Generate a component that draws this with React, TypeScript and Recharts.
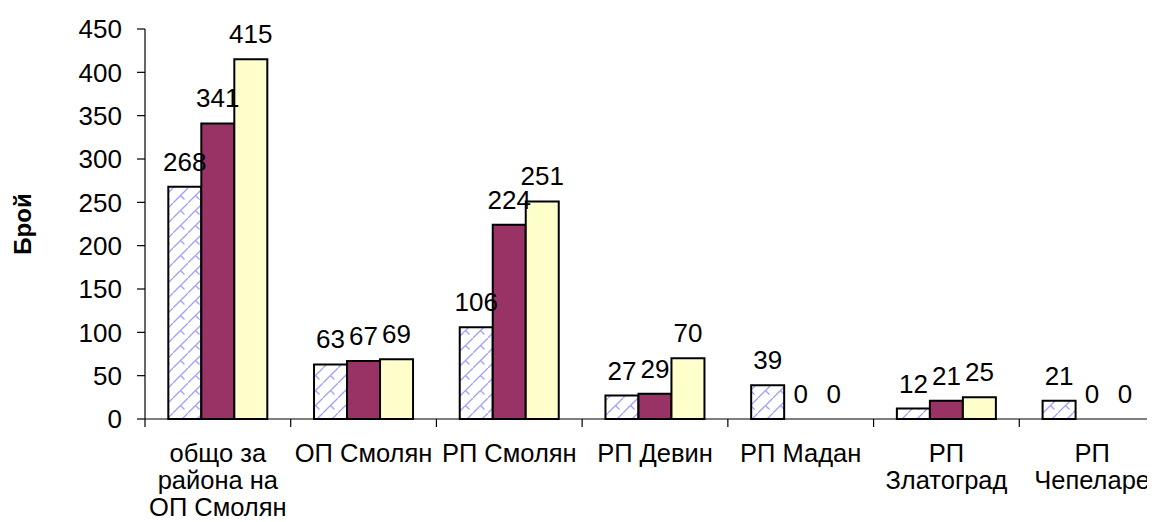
import React from 'react';
import { BarChart, Bar, XAxis, YAxis, LabelList, Label, Rectangle } from 'recharts';

const categories = [
  'общо за\nрайона на\nОП Смолян',
  'ОП Смолян',
  'РП Смолян',
  'РП Девин',
  'РП Мадан',
  'РП\nЗлатоград',
  'РП\nЧепеларе',
];
const series1 = [268, 63, 106, 27, 39, 12, 21];
const series2 = [341, 67, 224, 29, 0, 21, 0];
const series3 = [415, 69, 251, 70, 0, 25, 0];
const yTicks = [0, 50, 100, 150, 200, 250, 300, 350, 400, 450];

const data = categories.map((name, i) => ({
  name,
  s1: series1[i],
  s2: series2[i],
  s3: series3[i],
}));

const FONT = '"Liberation Sans", Arial, sans-serif';
const FS = 26;
const CAT_FS = 25.5;
const PLOT_W = 1020;

const CategoryTick = (props: any) => {
  const { x, y, payload, index, visibleTicksCount } = props;
  const n = visibleTicksCount || categories.length;
  const w = typeof props.width === 'number' && props.width > 0 ? props.width : PLOT_W;
  const half = w / n / 2;
  const lines = String(payload.value).split('\n');
  return (
    <g>
      <line x1={x - half} x2={x - half} y1={y} y2={y + 8} stroke="#000" strokeWidth={1.2} />
      {index === n - 1 && (
        <line x1={x + half} x2={x + half} y1={y} y2={y + 8} stroke="#000" strokeWidth={1.2} />
      )}
      {lines.map((l: string, i: number) => (
        <text
          key={i}
          x={x}
          y={y + 42.5 + i * 27}
          textAnchor="middle"
          fontSize={CAT_FS}
          fontFamily={FONT}
          fill="#000"
        >
          {l}
        </text>
      ))}
    </g>
  );
};

const ValueLabel = (props: any) => {
  const { x, y, width, value } = props;
  if (value === undefined || value === null) return null;
  return (
    <text
      x={Number(x) + Number(width) / 2}
      y={Number(y) - 16}
      textAnchor="middle"
      fontSize={FS}
      fontFamily={FONT}
      fill="#000"
    >
      {value}
    </text>
  );
};

const BarShape = (props: any) => {
  if (!props.height || Math.abs(props.height) < 0.5) return <g />;
  return <Rectangle {...props} />;
};

export default function App() {
  return (
    <div style={{ width: 1147, height: 514, overflow: 'hidden' }}>
      <BarChart
        width={1160}
        height={514}
        data={data}
        margin={{ top: 21, right: 3, bottom: 3, left: 0 }}
        barCategoryGap="16%"
        barGap={0}
        style={{ fontFamily: FONT }}
      >
        <defs>
          <pattern id="hatch" width="15" height="15" patternUnits="userSpaceOnUse">
            <rect width="15" height="15" fill="#fff" />
            <path d="M0,15 L15,0" stroke="#a0a0ff" strokeWidth="1.3" />
            <path d="M7.5,7.5 L11.5,11.5" stroke="#a0a0ff" strokeWidth="1.3" />
          </pattern>
        </defs>
        <XAxis
          dataKey="name"
          height={100}
          interval={0}
          tickLine={false}
          tickSize={0}
          tickMargin={0}
          axisLine={{ stroke: '#000', strokeWidth: 1.2 }}
          tick={<CategoryTick />}
        />
        <YAxis
          width={137}
          domain={[0, 450]}
          ticks={yTicks}
          interval={0}
          tickSize={8}
          tickMargin={15}
          axisLine={{ stroke: '#000', strokeWidth: 1.2 }}
          tickLine={{ stroke: '#000', strokeWidth: 1.2 }}
          tick={{ fontSize: FS, fill: '#000', fontFamily: FONT }}
        >
          <Label
            content={(p: any) => {
              const vb = p.viewBox || {};
              const cy = (vb.y ?? 0) + (vb.height ?? 0) / 2;
              return (
                <text
                  x={14}
                  y={cy}
                  transform={`rotate(-90, 14, ${cy})`}
                  textAnchor="middle"
                  dominantBaseline="central"
                  fontSize={24}
                  fontWeight="bold"
                  fontFamily={FONT}
                  fill="#000"
                >
                  Брой
                </text>
              );
            }}
          />
        </YAxis>
        <Bar dataKey="s1" fill="url(#hatch)" stroke="#000" strokeWidth={2} minPointSize={0.01} shape={<BarShape />} isAnimationActive={false}>
          <LabelList dataKey="s1" content={<ValueLabel />} />
        </Bar>
        <Bar dataKey="s2" fill="#993366" stroke="#000" strokeWidth={2} minPointSize={0.01} shape={<BarShape />} isAnimationActive={false}>
          <LabelList dataKey="s2" content={<ValueLabel />} />
        </Bar>
        <Bar dataKey="s3" fill="#ffffcc" stroke="#000" strokeWidth={2} minPointSize={0.01} shape={<BarShape />} isAnimationActive={false}>
          <LabelList dataKey="s3" content={<ValueLabel />} />
        </Bar>
      </BarChart>
    </div>
  );
}
